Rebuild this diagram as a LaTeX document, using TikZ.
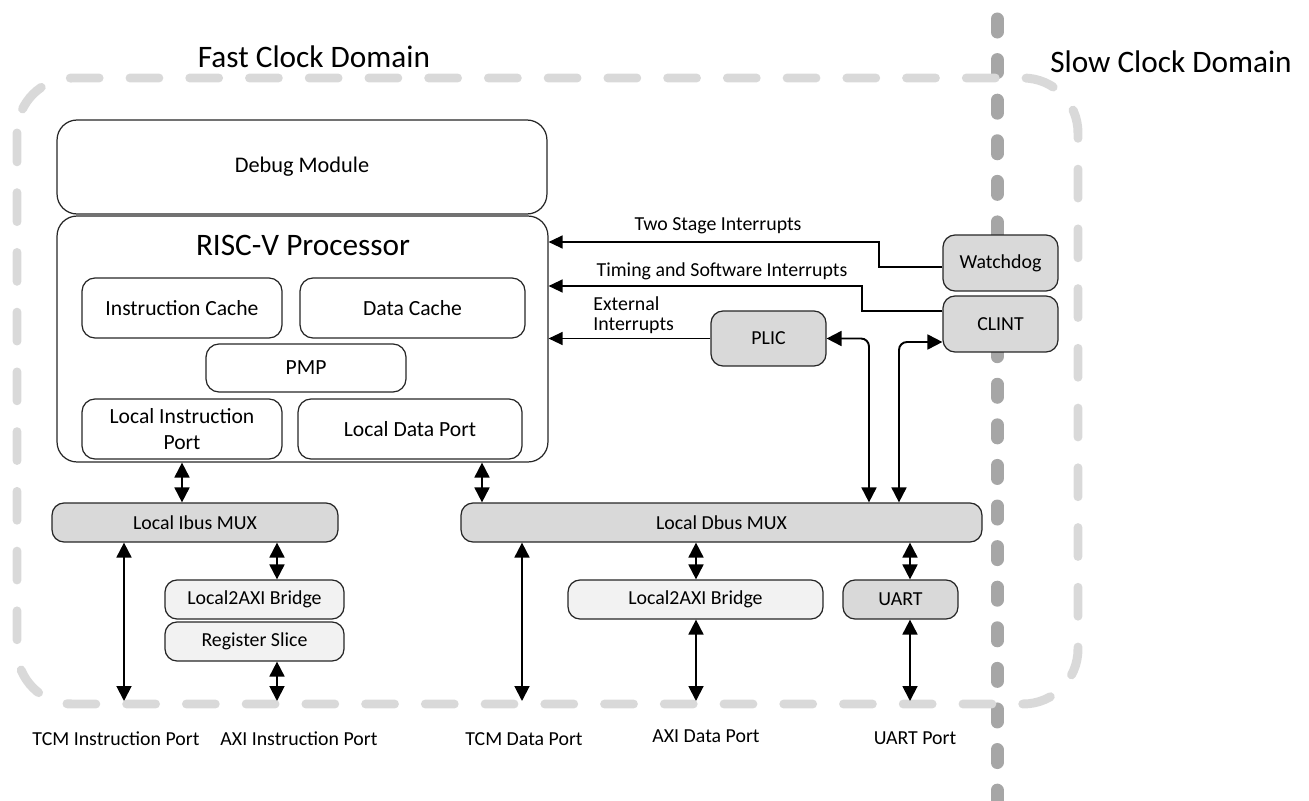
\documentclass[tikz,border=0pt]{standalone}
\usepackage{fontspec}
\setmainfont{Carlito}
\usetikzlibrary{positioning,arrows.meta,calc}

\definecolor{unitgray}{HTML}{D9D9D9}
\definecolor{bridgegray}{HTML}{F2F2F2}
\definecolor{fastline}{HTML}{D9D9D9}
\definecolor{slowline}{HTML}{A6A6A6}

\tikzset{
    unit/.style={draw=black!85, line width=0.7pt, rounded corners=0.26cm, align=center, inner sep=0pt, font=\fontsize{12.3}{14.6}\selectfont},
    bigunit/.style={unit, rounded corners=0.4cm},
    grayunit/.style={unit, rounded corners=0.24cm, fill=unitgray, font=\fontsize{11.3}{13.5}\selectfont},
    lightunit/.style={grayunit, fill=bridgegray},
    irq/.style={line width=0.8pt, -{Triangle[length=8pt,width=7.4pt]}},
    link/.style={line width=1.1pt, {Triangle[length=8.5pt,width=8.5pt]}-{Triangle[length=8.5pt,width=8.5pt]}},
    lbl/.style={font=\fontsize{11.3}{11.4}\selectfont, inner sep=0pt},
    domainname/.style={font=\fontsize{17.8}{20}\selectfont, inner sep=0pt},
}

\begin{document}
\begin{tikzpicture}[x=0.02cm, y=-0.02cm]
    \useasboundingbox (0,0) rectangle (1309,801);

    % clock domains
    \draw[slowline, line width=7.4pt, line cap=round, dash pattern=on 7.4pt off 15.7pt] (997,19) -- (997,805);
    \draw[fastline, line width=5.1pt, line cap=round, rounded corners=1.1cm, dash pattern=on 16.4pt off 17.6pt] (17,78) rectangle (1078,704);
    \node[domainname] (fastname) at (314,57) {Fast Clock Domain};
    \node[domainname] (slowname) at (1171,62) {Slow Clock Domain};

    % core
    \node[bigunit, minimum width=9.8cm, minimum height=1.88cm, font=\fontsize{12.7}{15}\selectfont] (debug) at (302,167) {Debug Module};
    \node[bigunit, minimum width=9.82cm, minimum height=4.92cm] (cpu) at (302.5,339) {};
    \node[domainname] (cpuname) at (303,245) {RISC-V Processor};
    \node[unit, minimum width=4cm, minimum height=1.2cm] (icache) at (182,308) {Instruction Cache};
    \node[unit, minimum width=4.5cm, minimum height=1.2cm] (dcache) at (412.5,308) {Data Cache};
    \node[unit, minimum width=4cm, minimum height=0.96cm] (pmp) at (306,368) {PMP};
    \node[unit, minimum width=4cm, minimum height=1.2cm] (liport) at (182,429) {Local Instruction\\Port};
    \node[unit, minimum width=4.48cm, minimum height=1.2cm] (ldport) at (410,429) {Local Data Port};

    % slow domain peripherals
    \node[grayunit, minimum width=2.3cm, minimum height=1.12cm] (watchdog) at (1000.5,263) {Watchdog};
    \node[grayunit, minimum width=2.3cm, minimum height=1.12cm] (clint) at (1000.5,324) {CLINT};
    \node[grayunit, minimum width=2.3cm, minimum height=1.1cm] (plic) at (768.5,338.5) {PLIC};

    % buses
    \node[grayunit, minimum width=5.72cm, minimum height=0.78cm] (ibus) at (195,522.5) {Local Ibus MUX};
    \node[grayunit, minimum width=10.42cm, minimum height=0.78cm] (dbus) at (721.5,522.5) {Local Dbus MUX};
    \node[lightunit, minimum width=3.58cm, minimum height=0.78cm] (ibridge) at (254.5,599.5) {Local2AXI Bridge};
    \node[lightunit, minimum width=3.58cm, minimum height=0.78cm] (regslice) at (254.5,641.5) {Register Slice};
    \node[lightunit, minimum width=5.1cm, minimum height=0.78cm] (dbridge) at (695.5,599.5) {Local2AXI Bridge};
    \node[grayunit, minimum width=2.3cm, minimum height=0.78cm] (uart) at (900.5,599.5) {UART};

    % interrupts
    \coordinate (wdturn) at (879,242);
    \coordinate (clturn) at (862,286);
    \draw[irq] ([yshift=-0.08cm]watchdog.west) -| (wdturn) -- (wdturn -| cpu.east);
    \draw[irq] ([yshift=0.26cm]clint.west) -| (clturn) -- (clturn -| cpu.east);
    \draw[irq] (plic.west) -- (plic.west -| cpu.east);
    \node[lbl] (tsirq) at (718,226) {Two Stage Interrupts};
    \node[lbl] (tmirq) at (722,271) {Timing and Software Interrupts};
    \node[lbl, anchor=west, align=left] (extirq) at (593,315) {External\\Interrupts};

    % plic and clint on the data bus
    \coordinate (plictap) at (869,0);
    \coordinate (clinttap) at (899,0);
    \draw[link, rounded corners=0.16cm] (plic.east) -| (dbus.north -| plictap);
    \draw[link, rounded corners=0.16cm] ([yshift=-0.36cm]clint.west) -| (dbus.north -| clinttap);

    % ports
    \coordinate (dtap) at (482,0);
    \coordinate (axitap) at (277,0);
    \coordinate (uarttap) at (910,0);
    \coordinate (tcmi) at (124,701);
    \coordinate (axii) at (277,701);
    \coordinate (tcmd) at (522,701);
    \coordinate (axid) at (696,701);
    \coordinate (uartp) at (910,701);
    \draw[link] (liport.south |- cpu.south) -- (liport.south |- ibus.north);
    \draw[link] (cpu.south -| dtap) -- (dbus.north -| dtap);
    \draw[link] (ibus.south -| tcmi) -- (tcmi);
    \draw[link] (ibus.south -| axitap) -- (ibridge.north -| axitap);
    \draw[link] (regslice.south -| axitap) -- (axii);
    \draw[link] (dbus.south -| tcmd) -- (tcmd);
    \draw[link] (dbus.south -| axid) -- (dbridge.north -| axid);
    \draw[link] (dbridge.south -| axid) -- (axid);
    \draw[link] (dbus.south -| uarttap) -- (uart.north -| uarttap);
    \draw[link] (uart.south -| uarttap) -- (uartp);

    \node[lbl] (tcmiport) at (116,739) {TCM Instruction Port};
    \node[lbl] (axiiport) at (299,739) {AXI Instruction Port};
    \node[lbl] (tcmdport) at (524,739) {TCM Data Port};
    \node[lbl] (axidport) at (706,736) {AXI Data Port};
    \node[lbl] (uartport) at (915,738) {UART Port};
\end{tikzpicture}
\end{document}
